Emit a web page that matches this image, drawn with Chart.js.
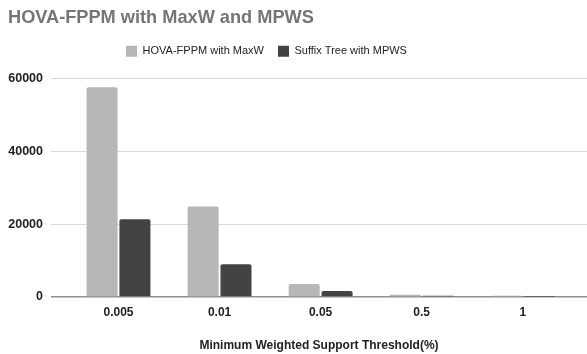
<!DOCTYPE html>
<html>
<head>
<meta charset="utf-8">
<script src="https://cdn.jsdelivr.net/npm/chart.js@4/dist/chart.umd.min.js"></script>
<style>
  html, body { margin: 0; padding: 0; background: #ffffff; }
  #wrap { width: 587px; height: 354px; position: relative; }
</style>
</head>
<body>
<div id="wrap"><canvas id="chart"></canvas></div>
<script>
// Minimum weighted support thresholds (%) on the x axis
const categories = ['0.005', '0.01', '0.05', '0.5', '1'];
// Number of patterns found by each method
const hovaMaxW = [57700, 24900, 3600, 600, 350];
const suffixMPWS = [21400, 9000, 1650, 350, 60];
// Value axis ticks
const yTicks = [0, 20000, 40000, 60000];

const FONT = '"Liberation Sans", Arial, sans-serif';
const positions = categories.map((_, i) => i);

// Extra room under the legend and a small leftward shift of the legend row
const legendLayout = {
  id: 'legendLayout',
  beforeInit(chart) {
    const legend = chart.legend;
    const fit = legend.fit.bind(legend);
    legend.fit = function () { fit(); this.height += 12; };
  },
  afterLayout(chart) {
    const legend = chart.legend;
    legend.left -= 31;
    legend.right -= 31;
  }
};

new Chart(document.getElementById('chart'), {
  type: 'bar',
  data: {
    labels: positions,
    datasets: [
      {
        label: 'HOVA-FPPM with MaxW',
        data: hovaMaxW,
        backgroundColor: '#b7b7b7',
        borderRadius: 2,
        borderSkipped: 'start',
        categoryPercentage: 0.65,
        barPercentage: 0.945
      },
      {
        label: 'Suffix Tree with MPWS',
        data: suffixMPWS,
        backgroundColor: '#434343',
        borderRadius: 2,
        borderSkipped: 'start',
        categoryPercentage: 0.65,
        barPercentage: 0.945
      }
    ]
  },
  options: {
    responsive: true,
    maintainAspectRatio: false,
    animation: false,
    layout: { padding: { left: 8, right: 0, top: 0, bottom: 0 } },
    plugins: {
      title: {
        display: true,
        text: 'HOVA-FPPM with MaxW and MPWS',
        align: 'start',
        color: '#757575',
        font: { family: FONT, size: 18.2, weight: 'bold', lineHeight: 1.2 },
        padding: { top: 7, bottom: 3 }
      },
      legend: {
        display: true,
        position: 'top',
        labels: {
          boxWidth: 11,
          boxHeight: 11,
          padding: 14,
          color: '#222222',
          font: { family: FONT, size: 11 }
        }
      },
      tooltip: { enabled: false }
    },
    scales: {
      x: {
        type: 'linear',
        offset: false,
        min: -0.668,
        max: 4.636,
        grid: { display: false, drawTicks: false, offset: false },
        border: { display: false },
        afterBuildTicks(scale) {
          scale.ticks = positions.map(v => ({ value: v }));
        },
        afterFit(scale) { scale.height = 57; },
        ticks: {
          padding: 8,
          color: '#222222',
          font: { family: FONT, size: 12, weight: 'bold' },
          callback: (v) => categories[v]
        },
        title: {
          display: true,
          text: 'Minimum Weighted Support Threshold(%)',
          color: '#222222',
          font: { family: FONT, size: 12, weight: 'bold' },
          padding: { top: 0, bottom: 1 }
        }
      },
      y: {
        min: yTicks[0],
        max: yTicks[yTicks.length - 1],
        afterBuildTicks(scale) {
          scale.ticks = yTicks.map(v => ({ value: v }));
        },
        afterFit(scale) { scale.width = 43; },
        border: { display: false },
        grid: {
          drawTicks: false,
          color: (ctx) => (ctx.tick && ctx.tick.value === 0 ? '#8f8f8f' : '#d9d9d9'),
          lineWidth: (ctx) => (ctx.tick && ctx.tick.value === 0 ? 1.5 : 1)
        },
        ticks: {
          padding: 8,
          color: '#222222',
          font: { family: FONT, size: 12.5, weight: 'bold' },
          callback: (v) => String(v)
        }
      }
    }
  },
  plugins: [legendLayout]
});
</script>
</body>
</html>
